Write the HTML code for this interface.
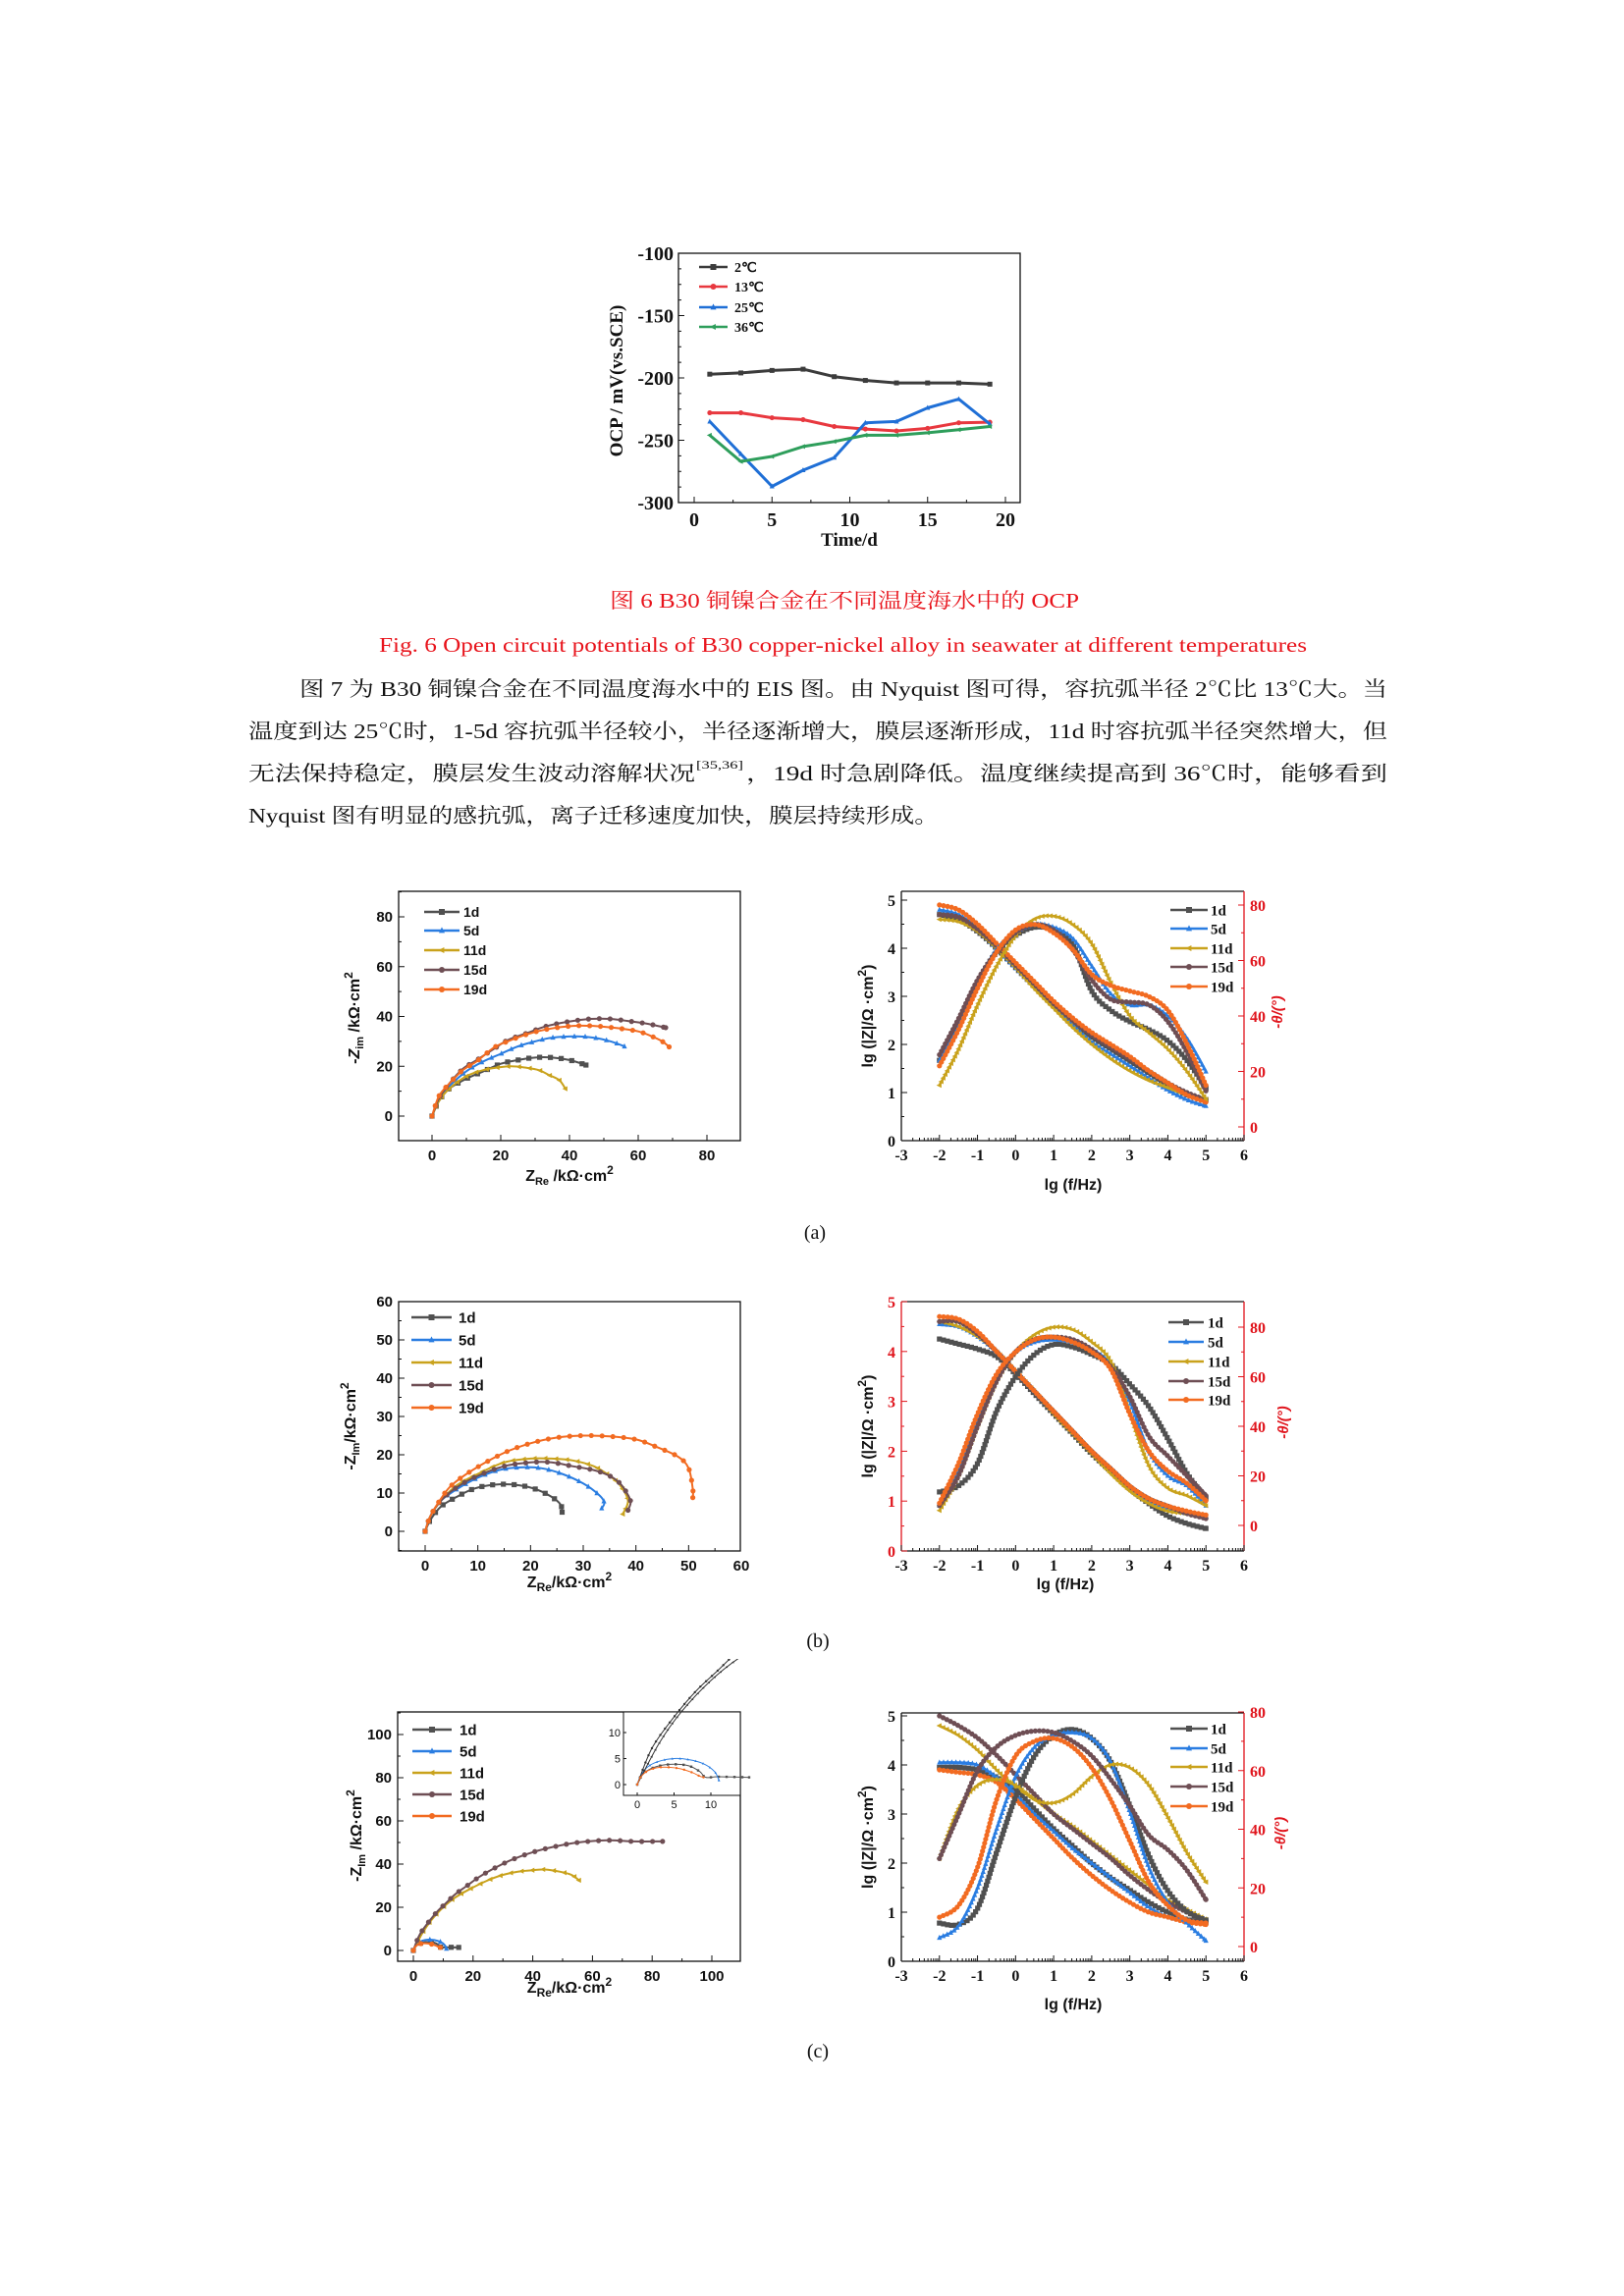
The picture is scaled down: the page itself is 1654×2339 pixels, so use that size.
<!DOCTYPE html>
<html><head><meta charset="utf-8">
<style>
html,body{margin:0;padding:0;background:#fff;}
svg{display:block;}
.cn{font-family:"Liberation Serif","Noto Serif CJK SC",serif;}
</style></head>
<body>
<svg id="page" width="1654" height="2339" viewBox="0 0 1654 2339" xmlns="http://www.w3.org/2000/svg">
<rect width="1654" height="2339" fill="#fff"/>
<g class="cn" font-size="21">
<text x="621" y="619" fill="#e8141c" textLength="478" lengthAdjust="spacingAndGlyphs">图 6 B30 铜镍合金在不同温度海水中的 OCP</text>
<text x="386" y="664" fill="#e8141c" textLength="945" lengthAdjust="spacingAndGlyphs">Fig. 6 Open circuit potentials of B30 copper-nickel alloy in seawater at different temperatures</text>
<text x="305" y="709" fill="#111" textLength="1108" lengthAdjust="spacingAndGlyphs">图 7 为 B30 铜镍合金在不同温度海水中的 EIS 图。由 Nyquist 图可得，容抗弧半径 2℃比 13℃大。当</text>
<text x="253" y="752" fill="#111" textLength="1160" lengthAdjust="spacingAndGlyphs">温度到达 25℃时，1-5d 容抗弧半径较小，半径逐渐增大，膜层逐渐形成，11d 时容抗弧半径突然增大，但</text>
<text x="253" y="795" fill="#111" textLength="455" lengthAdjust="spacingAndGlyphs">无法保持稳定，膜层发生波动溶解状况</text>
<text x="709" y="783" fill="#111" font-size="12" textLength="48" lengthAdjust="spacingAndGlyphs">[35,36]</text>
<text x="760" y="795" fill="#111" textLength="653" lengthAdjust="spacingAndGlyphs">，19d 时急剧降低。温度继续提高到 36℃时，能够看到</text>
<text x="253" y="838" fill="#111" textLength="703" lengthAdjust="spacingAndGlyphs">Nyquist 图有明显的感抗弧，离子迁移速度加快，膜层持续形成。</text>
<text x="830" y="1262" fill="#111" text-anchor="middle" font-size="20">(a)</text>
<text x="833" y="1678" fill="#111" text-anchor="middle" font-size="20">(b)</text>
<text x="833" y="2096" fill="#111" text-anchor="middle" font-size="20">(c)</text>
</g>
<g id="charts"></g>
</svg>
<script>
// ---------- OCP chart data ----------
const ocpDays = [1,3,5,7,9,11,13,15,17,19];
const ocpNames = ["2℃","13℃","25℃","36℃"];
const ocp2C  = [-197,-196,-194,-193,-199,-202,-204,-204,-204,-205];
const ocp13C = [-228,-228,-232,-233.5,-239,-241,-242.5,-240.5,-236,-235.5];
const ocp25C = [-235,-261,-287,-274,-264,-236,-235,-224,-217,-237];
const ocp36C = [-246,-267,-263,-255,-251,-246,-246,-244,-241.5,-239];
const ocpXTicks = [0,5,10,15,20];
const ocpYTicks = [-300,-250,-200,-150,-100];

// ---------- EIS data ----------
const eisNames = ["1d","5d","11d","15d","19d"];
const lgF = [-2,-1.5,-1,-0.5,0,0.5,1,1.5,2,2.5,3,3.5,4,4.5,5];
const bodeXTicks = [-3,-2,-1,0,1,2,3,4,5,6];
const bodeZTicks = [0,1,2,3,4,5];
const bodePTicks = [0,20,40,60,80];

// (a) Nyquist
const nyqA1d = [[0,0],[2,6],[5,11],[10,15],[15,18],[20,21],[25,22.5],[30,23.5],[35,23.5],[40,22.5],[44.8,20.5]];
const nyqA5d = [[0,0],[2,7],[5,12],[10,18],[15,22],[20,25],[25,28],[30,30],[35,31.5],[42,32],[47,31.5],[52,30],[56,28]];
const nyqA11d = [[0,0],[2,6],[5,11],[10,16],[15,18.5],[19,19.5],[23,20],[27,19.5],[31,18.5],[34,16.5],[37,14.5],[38.8,11]];
const nyqA15d = [[0,0],[2,7],[5,13],[9,19],[13,22.5],[18,27],[22,30.5],[28,33.5],[33,36],[40,38],[46,39],[52,39],[58,38],[63,37],[68,35.5]];
const nyqA19d = [[0,0],[2,8],[5,13],[9,18.5],[13,22],[18,27.5],[22,30],[28,33],[34,35],[41,36.2],[47,36.2],[54,35.3],[60,34],[64,32],[67,30],[69,27.8]];
const nyqATicks = [0,20,40,60,80];
// (a) Bode
const zA1d  = [4.7,4.6,4.35,4.0,3.6,3.2,2.8,2.45,2.15,1.9,1.65,1.4,1.15,0.95,0.85];
const zA5d  = [4.8,4.7,4.4,4.0,3.6,3.2,2.8,2.4,2.05,1.8,1.55,1.3,1.05,0.85,0.72];
const zA11d = [4.6,4.55,4.35,4.0,3.6,3.15,2.75,2.35,2.0,1.7,1.45,1.25,1.1,0.95,0.85];
const zA15d = [4.7,4.65,4.4,4.05,3.65,3.25,2.85,2.5,2.2,1.95,1.7,1.45,1.2,1.0,0.85];
const zA19d = [4.9,4.8,4.5,4.1,3.7,3.3,2.9,2.55,2.25,2.0,1.75,1.45,1.2,0.95,0.8];
const pA1d  = [24,37,52,63,69,72,71,66,49,42,38,35,31,24,14];
const pA5d  = [24,36,52,64,70,73,72,68,58,48,44,44,40,32,20];
const pA11d = [15,28,44,58,69,75,76,73,66,52,40,34,28,20,10];
const pA15d = [26,39,53,63,70,73,71,64,53,46,45,44,38,27,13];
const pA19d = [22,35,50,63,71,73,70,64,55,51,49,47,42,30,15];

// (b) Nyquist
const nyqB1d = [[0,0],[1,3],[3,6.5],[6,9],[9,11],[12,12],[15,12.3],[18,12],[21,11],[24,9],[25.7,7],[26,5]];
const nyqB5d = [[0,0],[1,4],[3,8],[6,11],[10,14],[14,16],[18,16.7],[22,16.5],[26,15],[30,12.5],[33,9.5],[34,7.5],[33.5,6]];
const nyqB11d = [[0,0],[1,4],[3,8],[6,12],[10,15],[15,18],[20,19],[24,19],[28,18.5],[32,17],[35,14.5],[37,12],[38.5,8],[37.5,4.5]];
const nyqB15d = [[0,0],[1,4],[3,8],[6,11.5],[10,14.5],[15,17],[20,18],[24,18],[28,17],[32,16],[35,14.5],[37,12.5],[38.5,9.5],[39,7.5],[38.5,5.5]];
const nyqB19d = [[0,0],[1,4],[3,8.5],[5,12],[9,16],[15,20.5],[20,23],[25,24.5],[30,25],[35,24.8],[40,24],[44,22],[48,19.5],[50,16.5],[50.8,11],[50.8,8.8]];
const nyqBTicks = [0,10,20,30,40,50,60];
// (b) Bode
const zB1d  = [4.25,4.15,4.05,3.9,3.55,3.15,2.75,2.35,1.95,1.6,1.25,0.95,0.7,0.55,0.45];
const zB5d  = [4.55,4.5,4.3,4.0,3.6,3.2,2.8,2.4,2.0,1.6,1.25,1.0,0.85,0.75,0.7];
const zB11d = [4.6,4.5,4.3,4.0,3.6,3.2,2.75,2.35,1.95,1.55,1.2,0.95,0.8,0.75,0.7];
const zB15d = [4.6,4.6,4.35,4.0,3.6,3.2,2.8,2.4,2.0,1.65,1.3,1.05,0.9,0.75,0.65];
const zB19d = [4.7,4.65,4.4,4.0,3.6,3.2,2.8,2.4,2.0,1.65,1.3,1.05,0.9,0.8,0.72];
const pB1d  = [13.5,16,25,46,60,69,73,72,69,65,57,48,35,21,11];
const pB5d  = [8,22,42,60,70,74,75,74,71,65,50,30,20,16,8];
const pB11d = [6,20,40,58,70,77,80,79,74,66,45,24,15,12,8];
const pB15d = [8,20,40,58,70,75,76,75,71,64,52,36,28,20,12];
const pB19d = [9,25,45,61,70,75,76,74,70,63,45,30,22,17,10];

// (c) Nyquist
const nyqC1d = [[0,0],[0.5,1.5],[1.5,2.8],[3,3.6],[5,3.9],[7,3.6],[8.5,2.5],[9.3,1.4],[11,1.5],[15.2,1.4]];
const nyqC5d = [[0,0],[0.5,1.8],[1.5,3.5],[3,4.5],[5,5],[7,4.8],[9,4],[10.5,2.5],[11.1,0.8]];
const nyqC11d = [[0,0],[3,8],[6,14],[10,20],[14,24.5],[19,28.5],[25,32.5],[30,35],[35,36.5],[40,37.2],[44,37.5],[49,36.5],[53,35],[55.5,32.5]];
const nyqC15d = [[0,0],[2,7],[5,13],[8,18],[11,22],[14,26],[18,30],[22,34],[27,38],[33,42],[40,45.5],[47,48],[55,50],[65,51],[74,50.5],[83.5,50.5]];
const nyqC19d = [[0,0],[0.5,1.5],[1.5,2.7],[3,3.3],[4.5,3.3],[6,3.0],[7.5,2.3],[8.5,1.6],[9,1.4]];
const nyqCTicks = [0,20,40,60,80,100];
const insetTicks = [0,5,10];
// (c) Bode
const zC1d  = [3.95,3.95,3.9,3.75,3.5,3.1,2.7,2.35,2.0,1.7,1.45,1.2,1.0,0.85,0.8];
const zC5d  = [4.05,4.05,4.0,3.75,3.4,3.0,2.65,2.3,2.0,1.7,1.4,1.1,0.9,0.82,0.78];
const zC11d = [4.8,4.6,4.3,3.9,3.55,3.3,3.0,2.75,2.45,2.15,1.85,1.55,1.25,1.05,0.85];
const zC15d = [5.0,4.8,4.55,4.2,3.8,3.4,3.0,2.7,2.4,2.1,1.75,1.45,1.2,1.0,0.8];
const zC19d = [3.9,3.85,3.8,3.65,3.3,2.9,2.5,2.1,1.75,1.45,1.2,1.0,0.9,0.8,0.75];
const pC1d  = [8,7.5,13,32,51,65,72,74,71,63,48,31,19,12,9];
const pC5d  = [3,7,20,40,58,68,72,73,71,63,46,27,15,8,2];
const pC11d = [30,47,55,57,55,50,49,52,58,62,61,55,44,32,22];
const pC15d = [30,45,60,68,72,73.5,73,70,65,57,48,38,33,26,16];
const pC19d = [10,14,27,50,65,70,71,68,61,50,36,22,14,9,8];

// ---------- rendering ----------
const NS = "http://www.w3.org/2000/svg";
const root = document.getElementById('charts');
const eisColors = ["#505050","#2a7de1","#c9a21c","#6e4e54","#f26b21"];
const eisMarkers = ["square","triangle","ltriangle","circle","circle"];
function el(tag, attrs, parent){
  const e = document.createElementNS(NS, tag);
  for (const k in attrs) e.setAttribute(k, attrs[k]);
  (parent||root).appendChild(e);
  return e;
}
function lin(d0,d1,p0,p1){ return v => p0 + (v-d0)*(p1-p0)/(d1-d0); }
function smoothPath(pts){
  if (pts.length<2) return "";
  let d = "M"+pts[0][0].toFixed(1)+","+pts[0][1].toFixed(1);
  for (let i=0;i<pts.length-1;i++){
    const p0=pts[Math.max(0,i-1)], p1=pts[i], p2=pts[i+1], p3=pts[Math.min(pts.length-1,i+2)];
    const c1=[p1[0]+(p2[0]-p0[0])/6, p1[1]+(p2[1]-p0[1])/6];
    const c2=[p2[0]-(p3[0]-p1[0])/6, p2[1]-(p3[1]-p1[1])/6];
    d += " C"+c1[0].toFixed(1)+","+c1[1].toFixed(1)+" "+c2[0].toFixed(1)+","+c2[1].toFixed(1)+" "+p2[0].toFixed(1)+","+p2[1].toFixed(1);
  }
  return d;
}
function marker(g, type, x, y, r, color){
  let m;
  if (type==="square") m = el('rect',{x:x-r,y:y-r,width:2*r,height:2*r,fill:color},g);
  else if (type==="triangle") m = el('polygon',{points:`${x},${y-r*1.2} ${x-r},${y+r*0.8} ${x+r},${y+r*0.8}`,fill:color},g);
  else if (type==="ltriangle") m = el('polygon',{points:`${x-r*1.2},${y} ${x+r*0.8},${y-r} ${x+r*0.8},${y+r}`,fill:color},g);
  else m = el('circle',{cx:x,cy:y,r:r,fill:color},g);
  
  
  return m;
}
function series(g, pts, color, mtype, width, spacing, r, name, smooth){
  const p = el('path',{d: smooth===false ? "M"+pts.map(q=>q[0].toFixed(1)+","+q[1].toFixed(1)).join(" L") : smoothPath(pts), fill:"none", stroke:color, "stroke-width":width, "stroke-linejoin":"round"}, g);
  
  
  if (spacing>0){
    const L = p.getTotalLength();
    for (let s=0; s<=L; s+=spacing){ const q=p.getPointAtLength(s); marker(g,mtype,q.x,q.y,r,color); }
    const q=p.getPointAtLength(L); marker(g,mtype,q.x,q.y,r,color);
  } else if (spacing===0){
    pts.forEach(q=>marker(g,mtype,q[0],q[1],r,color));
  }
  return p;
}
function txt(g, x, y, s, attrs, name){
  const t = el('text', Object.assign({x:x,y:y}, attrs||{}), g);
  t.textContent = s;
  
  
  return t;
}
function legend(g, names, colors, mtypes, x0, x1, tx, rows, font, size){
  names.forEach((n,i)=>{
    const lg = el('g',{},g);
    
    
    el('line',{x1:x0,y1:rows[i],x2:x1,y2:rows[i],stroke:colors[i],"stroke-width":2.5},lg);
    marker(lg,mtypes[i],(x0+x1)/2,rows[i],3,colors[i]);
    txt(lg,tx,rows[i]+size*0.36,n,{"font-family":font,"font-weight":"bold","font-size":size,fill:"#111"},'legend-label');
  });
}
function box(g,x0,y0,x1,y1,stroke){
  const b = el('rect',{x:x0,y:y0,width:x1-x0,height:y1-y0,fill:"none",stroke:stroke||"#111","stroke-width":1.3},g);
  
  
}

// ===== OCP chart =====
(function(){
  const g = el('g',{});  
  const X = lin(0,20,707,1024), Y = lin(-100,-300,258,512);
  box(g,691,258,1039,512);
  const serif = '"Liberation Serif",serif';
  ocpXTicks.forEach(v=>{ el('line',{x1:X(v),y1:512,x2:X(v),y2:506,stroke:"#111"},g);
    txt(g,X(v),536,String(v),{"text-anchor":"middle","font-family":serif,"font-weight":"bold","font-size":20,fill:"#111"},'x-tick-label'); });
  for(let v=2.5; v<20; v+=5) el('line',{x1:X(v),y1:512,x2:X(v),y2:509,stroke:"#111"},g);
  ocpYTicks.forEach(v=>{ el('line',{x1:691,y1:Y(v),x2:697,y2:Y(v),stroke:"#111"},g);
    txt(g,686,Y(v)+7,String(v),{"text-anchor":"end","font-family":serif,"font-weight":"bold","font-size":20,fill:"#111"},'y-tick-label'); });
  for(let v=-287.5; v<-100; v+=12.5) if(v%50!==0) el('line',{x1:691,y1:Y(v),x2:694,y2:Y(v),stroke:"#111"},g);
  txt(g,865,556,"Time/d",{"text-anchor":"middle","font-family":serif,"font-weight":"bold","font-size":19,fill:"#111"},'x-axis-title');
  txt(g,0,0,"OCP / mV(vs.SCE)",{transform:"translate(634,388) rotate(-90)","text-anchor":"middle","font-family":serif,"font-weight":"bold","font-size":19,fill:"#111"},'y-axis-title');
  const cols=["#3c3c3c","#e8383f","#1f6fd6","#2e9e5b"], mk=["square","circle","triangle","ltriangle"];
  [ocp2C,ocp13C,ocp25C,ocp36C].forEach((s,i)=>{
    series(g, ocpDays.map((d,j)=>[X(d),Y(s[j])]), cols[i], mk[i], 3, 0, 2.5, 'ocp-line-'+ocpNames[i], false);
  });
  legend(g, ocpNames, cols, mk, 712, 741, 748, [272,292,313,333], serif, 14);
})();

// ===== Nyquist helper =====
function nyquist(name, geo, data, ticks, minorStep, legendGeo, ylab, xlab){
  const g = el('g',{});  
  const X = lin(0,geo.xv1,geo.x0v,geo.x1v), Y = lin(0,geo.yv1,geo.y0v,geo.y1v);
  box(g,geo.bx0,geo.by0,geo.bx1,geo.by1);
  const arial='"Liberation Sans",sans-serif';
  const xmin=(geo.bx0-geo.x0v)/(X(1)-X(0)), xmax=(geo.bx1-geo.x0v)/(X(1)-X(0));
  const ymin=(geo.by1-geo.y0v)/(Y(1)-Y(0)), ymax=(geo.by0-geo.y0v)/(Y(1)-Y(0));
  for(let v=Math.ceil(Math.min(xmin,xmax)/minorStep)*minorStep; v<=Math.max(xmin,xmax); v+=minorStep){
    const maj = ticks.includes(v);
    el('line',{x1:X(v),y1:geo.by1,x2:X(v),y2:geo.by1-(maj?6:3),stroke:"#111"},g);
  }
  for(let v=Math.ceil(Math.min(ymin,ymax)/minorStep)*minorStep; v<=Math.max(ymin,ymax); v+=minorStep){
    const maj = ticks.includes(v);
    el('line',{x1:geo.bx0,y1:Y(v),x2:geo.bx0+(maj?6:3),y2:Y(v),stroke:"#111"},g);
  }
  ticks.forEach(v=>{
    if (X(v)<=geo.bx1+2) txt(g,X(v),geo.by1+20,String(v),{"text-anchor":"middle","font-family":arial,"font-weight":"bold","font-size":15,fill:"#111"},'x-tick-label');
    if (Y(v)>=geo.by0-2) txt(g,geo.bx0-6,Y(v)+5,String(v),{"text-anchor":"end","font-family":arial,"font-weight":"bold","font-size":15,fill:"#111"},'y-tick-label');
  });
  data.forEach((s,i)=>{
    series(g, s.map(q=>[X(q[0]),Y(q[1])]), eisColors[i], eisMarkers[i], 2, 11, 2.6, 'nyquist-'+eisNames[i]);
  });
  legend(g, eisNames, eisColors, eisMarkers, legendGeo[0], legendGeo[1], legendGeo[2], legendGeo[3], arial, legendGeo[4]);
  const yl = txt(g,0,0,"",{transform:`translate(${geo.ylx},${geo.yly}) rotate(-90)`,"text-anchor":"middle","font-family":arial,"font-weight":"bold","font-size":16,fill:"#111"},'y-axis-title');
  yl.innerHTML = ylab;
  const xl = txt(g,geo.xlx,geo.xly,"",{"text-anchor":"middle","font-family":arial,"font-weight":"bold","font-size":16,fill:"#111"},'x-axis-title');
  xl.innerHTML = xlab;
  return {g,X,Y};
}

// ===== Bode helper =====
function bode(name, geo, zs, ps, legendGeo, leftRed){
  const g = el('g',{});  
  const X = lin(-3,6,918,1267), YZ = lin(0,5,geo.by1,geo.z5), YP = lin(0,80,geo.p0,geo.p80);
  const serif='"Liberation Serif",serif', arial='"Liberation Sans",sans-serif';
  const red="#e0141c", leftCol = leftRed? red : "#111";
  el('line',{x1:918,y1:geo.by0,x2:1267,y2:geo.by0,stroke:"#111","stroke-width":1.3},g);
  el('line',{x1:918,y1:geo.by1,x2:1267,y2:geo.by1,stroke:"#111","stroke-width":1.3},g);
  el('line',{x1:918,y1:geo.by0,x2:918,y2:geo.by1,stroke:leftCol,"stroke-width":1.3},g);
  el('line',{x1:1267,y1:geo.by0,x2:1267,y2:geo.by1,stroke:red,"stroke-width":1.3},g);
  bodeXTicks.forEach(v=>{
    el('line',{x1:X(v),y1:geo.by1,x2:X(v),y2:geo.by1-6,stroke:"#111"},g);
    if (v<6) for(let k=2;k<10;k++){ const xv=X(v+Math.log10(k)); el('line',{x1:xv,y1:geo.by1,x2:xv,y2:geo.by1-3,stroke:"#111"},g); }
    txt(g,X(v),geo.by1+20,String(v),{"text-anchor":"middle","font-family":serif,"font-weight":"bold","font-size":16,fill:"#111"},'x-tick-label');
  });
  bodeZTicks.forEach(v=>{
    el('line',{x1:918,y1:YZ(v),x2:924,y2:YZ(v),stroke:leftCol},g);
    if (v<5) el('line',{x1:918,y1:YZ(v+0.5),x2:921,y2:YZ(v+0.5),stroke:leftCol},g);
    txt(g,912,YZ(v)+6,String(v),{"text-anchor":"end","font-family":serif,"font-weight":"bold","font-size":16,fill:leftCol},'y-tick-label');
  });
  bodePTicks.forEach(v=>{
    el('line',{x1:1267,y1:YP(v),x2:1261,y2:YP(v),stroke:red},g);
    if (YP(v+10) > geo.by0+1) el('line',{x1:1267,y1:YP(v+10),x2:1264,y2:YP(v+10),stroke:red},g);
    txt(g,1273,YP(v)+6,String(v),{"font-family":serif,"font-weight":"bold","font-size":16,fill:red},'right-tick-label');
  });
  zs.forEach((s,i)=> series(g, lgF.map((f,j)=>[X(f),YZ(s[j])]), eisColors[i], eisMarkers[i], 2.5, 4.2, 2.6, 'impedance-'+eisNames[i]));
  ps.forEach((s,i)=> series(g, lgF.map((f,j)=>[X(f),YP(s[j])]), eisColors[i], eisMarkers[i], 2.5, 4.2, 2.6, 'phase-'+eisNames[i]));
  legend(g, eisNames, eisColors, eisMarkers, legendGeo[0], legendGeo[1], legendGeo[2], legendGeo[3], serif, 15);
  const yl = txt(g,0,0,"",{transform:`translate(${geo.ylx},${(geo.by0+geo.by1)/2}) rotate(-90)`,"text-anchor":"middle","font-family":arial,"font-weight":"bold","font-size":16,fill:"#111"},'y-axis-title');
  yl.innerHTML = 'lg (|Z|/Ω ·cm<tspan dy="-7" font-size="12">2</tspan><tspan dy="7">)</tspan>';
  txt(g,0,0,"-θ/(°)",{transform:`translate(${geo.rlx},${(geo.by0+geo.by1)/2-4}) rotate(-90)`,"text-anchor":"middle","font-family":arial,"font-weight":"bold","font-style":"italic","font-size":15,fill:red},'right-axis-title');
  txt(g,geo.xlx,geo.xly,"lg (f/Hz)",{"text-anchor":"middle","font-family":arial,"font-weight":"bold","font-size":16,fill:"#111"},'x-axis-title');
}

// ----- panel (a)
nyquist('nyquist-chart-a',{bx0:406,by0:908,bx1:754,by1:1162,x0v:440,x1v:720,xv1:80,y0v:1137,y1v:934,yv1:80,ylx:366,yly:1037,xlx:580,xly:1203},
  [nyqA1d,nyqA5d,nyqA11d,nyqA15d,nyqA19d], nyqATicks, 10, [432,468,472,[929,948,968,988,1008],14],
  '-<tspan font-style="italic">Z</tspan><tspan dy="4" font-size="11">im</tspan><tspan dy="-4"> /kΩ·cm</tspan><tspan dy="-7" font-size="12">2</tspan>',
  'Z<tspan dy="4" font-size="11">Re</tspan><tspan dy="-4"> /kΩ·cm</tspan><tspan dy="-7" font-size="12">2</tspan>');
bode('bode-chart-a',{by0:908,by1:1162,z5:917,p0:1148,p80:922,ylx:889,rlx:1306,xlx:1093,xly:1212},
  [zA1d,zA5d,zA11d,zA15d,zA19d],[pA1d,pA5d,pA11d,pA15d,pA19d],[1192,1230,1233,[927,946,966,985,1005]],false);

// ----- panel (b)
nyquist('nyquist-chart-b',{bx0:406,by0:1326,bx1:754,by1:1580,x0v:433,x1v:755,xv1:60,y0v:1560,y1v:1326,yv1:60,ylx:362,yly:1453,xlx:580,xly:1617},
  [nyqB1d,nyqB5d,nyqB11d,nyqB15d,nyqB19d], nyqBTicks, 5, [419,460,467,[1342,1365,1388,1411,1434],15],
  '-Z<tspan dy="4" font-size="11">Im</tspan><tspan dy="-4">/kΩ·cm</tspan><tspan dy="-7" font-size="12">2</tspan>',
  'Z<tspan dy="4" font-size="12">Re</tspan><tspan dy="-4">/kΩ·cm</tspan><tspan dy="-7" font-size="12">2</tspan>');
bode('bode-chart-b',{by0:1326,by1:1580,z5:1326,p0:1554,p80:1352,ylx:889,rlx:1312,xlx:1085,xly:1619},
  [zB1d,zB5d,zB11d,zB15d,zB19d],[pB1d,pB5d,pB11d,pB15d,pB19d],[1190,1226,1230,[1347,1367,1387,1407,1426]],true);

// ----- panel (c)
const cN = nyquist('nyquist-chart-c',{bx0:405,by0:1744,bx1:754,by1:1998,x0v:421,x1v:725,xv1:100,y0v:1987,y1v:1767,yv1:100,ylx:368,yly:1870,xlx:580,xly:2030},
  [nyqC1d,nyqC5d,nyqC11d,nyqC15d,nyqC19d], nyqCTicks, 10, [420,460,468,[1762,1784,1806,1828,1850],15],
  '-Z<tspan dy="4" font-size="11">Im</tspan><tspan dy="-4"> /kΩ·cm</tspan><tspan dy="-7" font-size="12">2</tspan>',
  'Z<tspan dy="4" font-size="12">Re</tspan><tspan dy="-4">/kΩ·cm</tspan><tspan dy="-7" font-size="12">2</tspan>');
(function(){
  const g = el('g',{},cN.g);  
  el('rect',{x:635,y:1744,width:119,height:85,fill:"#fff",stroke:"#111","stroke-width":1},g);
  const X = lin(0,10,649,724), Y = lin(0,10,1818,1765);
  const cp = el('clipPath',{id:"insetclip"},g); el('rect',{x:635,y:1690,width:135,height:139},cp);
  const arial='"Liberation Sans",sans-serif';
  insetTicks.forEach(v=>{
    txt(g,X(v),1842,String(v),{"text-anchor":"middle","font-family":arial,"font-size":11,fill:"#111"},'inset-x-tick');
    txt(g,632,Y(v)+4,String(v),{"text-anchor":"end","font-family":arial,"font-size":11,fill:"#111"},'inset-y-tick');
    el('line',{x1:X(v),y1:1829,x2:X(v),y2:1826,stroke:"#111"},g);
    el('line',{x1:635,y1:Y(v),x2:638,y2:Y(v),stroke:"#111"},g);
  });
  const cg = el('g',{"clip-path":"url(#insetclip)"},g);
  [nyqC1d,nyqC5d,nyqC11d,nyqC15d,nyqC19d].forEach((s,i)=>{
    const col = (i===2||i===3)? "#333" : eisColors[i];
    series(cg, s.map(q=>[X(q[0]),Y(q[1])]), col, eisMarkers[i], 1, 8, 1.2, 'inset-'+eisNames[i]);
  });
})();
bode('bode-chart-c',{by0:1745,by1:1998,z5:1748,p0:1983,p80:1744,ylx:889,rlx:1309,xlx:1093,xly:2047},
  [zC1d,zC5d,zC11d,zC15d,zC19d],[pC1d,pC5d,pC11d,pC15d,pC19d],[1192,1230,1233,[1761,1781,1800,1820,1840]],false);
</script>
</body></html>
